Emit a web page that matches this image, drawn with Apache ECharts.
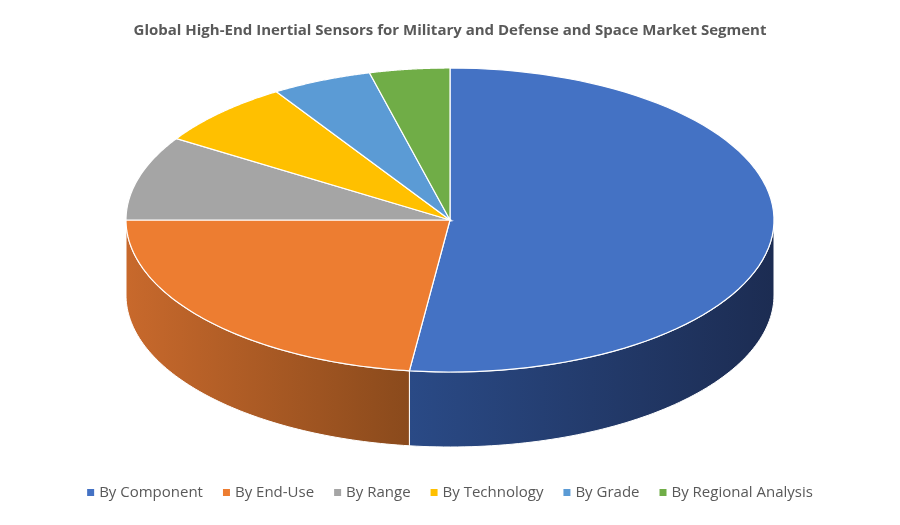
<!DOCTYPE html>
<html><head><meta charset="utf-8">
<script src="https://cdn.jsdelivr.net/npm/echarts@6/dist/echarts.min.js"></script>
<style>html,body{margin:0;padding:0;background:#fff}#c{width:900px;height:525px}</style>
</head><body><div id="c"></div>
<script>
const categories = ['By Component','By End-Use','By Range','By Technology','By Grade','By Regional Analysis'];
const values = [52, 23, 9, 7, 5, 4];
const topColors = ['#4472c4','#ed7d31','#a5a5a5','#ffc000','#5b9bd5','#70ad47'];
const sideColors = [['#2a4a86','#1c2c52'],['#c8692c','#8a4a1c'],['#7a7a7a','#555'],['#b88a00','#8a6800'],['#3e76aa','#2b5780'],['#4f7d31','#3a5d24']];

const total = values.reduce((a,b)=>a+b,0);
const cx=450, cy=220, rx=324, ry=152, depth=75;
function pt(t, dy){ return [cx+rx*Math.sin(t), cy-ry*Math.cos(t)+(dy||0)]; }

function makeRender(i){
  return function(params, api){
    let start=0; for(let k=0;k<i;k++) start+=values[k];
    const a0=start/total*2*Math.PI, a1=(start+values[i])/total*2*Math.PI;
    const n=80, top=[[cx,cy]];
    for(let s=0;s<=n;s++) top.push(pt(a0+(a1-a0)*s/n));
    const children=[];
    // side wall visible for angles in [PI/2, 3PI/2]
    const s0=Math.max(a0,Math.PI/2), s1=Math.min(a1,3*Math.PI/2);
    if(s1>s0){
      const up=[],dn=[];
      for(let s=0;s<=n;s++){const t=s0+(s1-s0)*s/n; up.push(pt(t)); dn.push(pt(t,depth));}
      const xs=up.map(p=>p[0]);
      children.push({type:'polygon',z2:0,shape:{points:up.concat(dn.reverse())},
        style:{fill:new echarts.graphic.LinearGradient(0,0,1,0,[{offset:0,color:sideColors[i][0]},{offset:1,color:sideColors[i][1]}]),stroke:'#fff',lineWidth:1}});
    }
    children.push({type:'polygon',z2:10,shape:{points:top},style:{fill:topColors[i],stroke:'#fff',lineWidth:1.2}});
    return {type:'group',children};
  };
}

const chart=echarts.init(document.getElementById('c'));
chart.setOption({
  animation:false,
  title:{text:'Global High-End Inertial Sensors for Military and Defense and Space Market Segment',left:'center',top:18,
    textStyle:{fontFamily:'Open Sans',fontSize:15,fontWeight:'bold',color:'#595959'}},
  legend:{bottom:20,left:'center',itemWidth:7,itemHeight:7,itemGap:20,icon:'rect',
    textStyle:{fontFamily:'Open Sans',fontSize:15,color:'#595959'},data:categories},
  color:topColors,
  series:categories.map((name,i)=>({type:'custom',name,coordinateSystem:'none',data:[values[i]],
    itemStyle:{color:topColors[i]},renderItem:makeRender(i)}))
});
</script></body></html>
